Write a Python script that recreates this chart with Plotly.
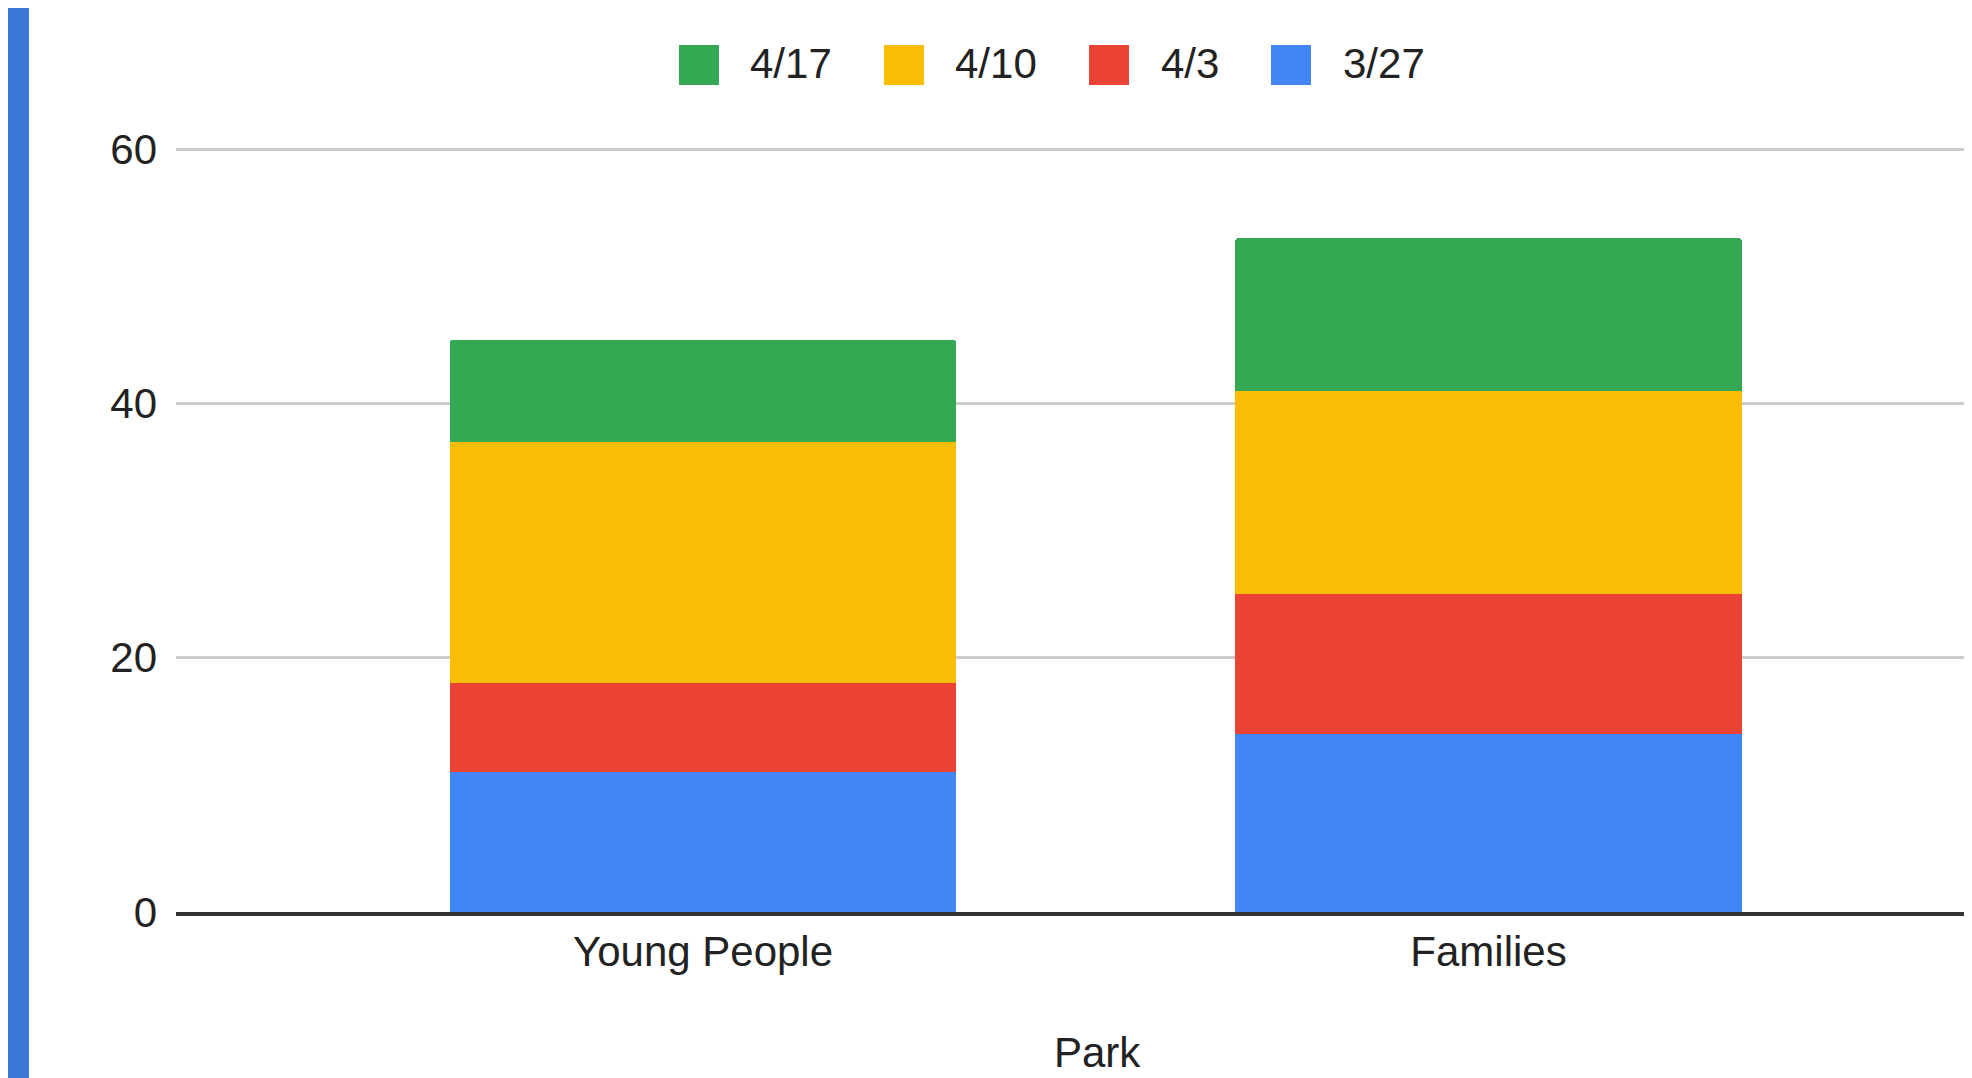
import plotly.graph_objects as go

# ---- data ----
categories = ["Young People", "Families"]
series_names = ["3/27", "4/3", "4/10", "4/17"]
s_3_27 = [11, 14]
s_4_3 = [7, 11]
s_4_10 = [19, 16]
s_4_17 = [8, 12]
series_values = [s_3_27, s_4_3, s_4_10, s_4_17]
series_colors = ["#4285F4", "#EA4335", "#FBBC04", "#34A853"]
y_ticks = [0, 20, 40, 60]
x_title = "Park"

# ---- layout constants (pixels, in screenshot coordinates) ----
OFF = 8                      # the page body margin shifts the figure by 8px
SW, SH = 1972, 1078
W, H = SW - OFF, SH - OFF
PLOT_L, PLOT_T, PLOT_B = 176, 148, 912   # screenshot coords of plot area
ML, MR, MT, MB = PLOT_L - OFF, 0, PLOT_T - OFF, SH - PLOT_B
PW = W - ML - MR
PH = H - MT - MB
FONT = "Arial, 'Liberation Sans', sans-serif"
TXT = "#222222"


def px_x(X):
    """screenshot x -> paper x"""
    return (X - OFF - ML) / PW


def px_y(Y):
    """screenshot y -> paper y"""
    return (H - MB - (Y - OFF)) / PH


fig = go.Figure()
for name, vals, col in zip(series_names, series_values, series_colors):
    fig.add_trace(go.Bar(
        x=categories, y=vals, name=name,
        marker=dict(color=col, line=dict(width=0)),
        width=0.645, showlegend=False,
    ))

# manual legend (reversed order, large swatches like the original)
legend_sq_cx = [699, 904, 1109, 1291]
legend_txt_x = [748, 953, 1159, 1341]
shapes = []
annotations = []
for i, idx in enumerate(reversed(range(len(series_names)))):
    cx = legend_sq_cx[i]
    shapes.append(dict(
        type="rect", xref="paper", yref="paper",
        x0=px_x(cx - 20), x1=px_x(cx + 20), y0=px_y(85), y1=px_y(45),
        fillcolor=series_colors[idx], line=dict(width=0), layer="above",
    ))
    annotations.append(dict(
        text=series_names[idx], xref="paper", yref="paper",
        x=px_x(legend_txt_x[i]), y=px_y(64), xanchor="left", yanchor="middle",
        showarrow=False, font=dict(family=FONT, size=42, color=TXT),
    ))

# x-axis title
annotations.append(dict(
    text=x_title, xref="paper", yref="paper",
    x=px_x(1097.5), y=px_y(SH), xanchor="center", yanchor="bottom",
    showarrow=False, font=dict(family=FONT, size=42, color=TXT),
))

# blue strip on the left edge
shapes.append(dict(
    type="rect", xref="paper", yref="paper",
    x0=px_x(OFF), x1=px_x(29), y0=px_y(SH + 5), y1=px_y(OFF - 5),
    fillcolor="#3C78D8", line=dict(width=0), layer="above",
))

fig.update_layout(
    width=W, height=H,
    margin=dict(l=ML, r=MR, t=MT, b=MB, pad=0),
    barmode="stack",
    barcornerradius=3,
    paper_bgcolor="white", plot_bgcolor="white",
    showlegend=False,
    font=dict(family=FONT, size=42, color=TXT),
    shapes=shapes,
    annotations=annotations,
    xaxis=dict(
        type="category",
        range=[-0.671, 1.6156],
        showgrid=False, zeroline=False,
        showline=True, linecolor="#333333", linewidth=4,
        ticks="", ticklabelstandoff=0,
        tickfont=dict(family=FONT, size=42, color=TXT),
        fixedrange=True,
    ),
    yaxis=dict(
        range=[0, 60.1],
        tickvals=y_ticks,
        showgrid=True, gridcolor="#CCCCCC", gridwidth=2.5,
        zeroline=False, showline=False,
        ticks="", ticklabelstandoff=18,
        tickfont=dict(family=FONT, size=42, color=TXT),
        fixedrange=True,
    ),
)

fig.write_html("out.html")
